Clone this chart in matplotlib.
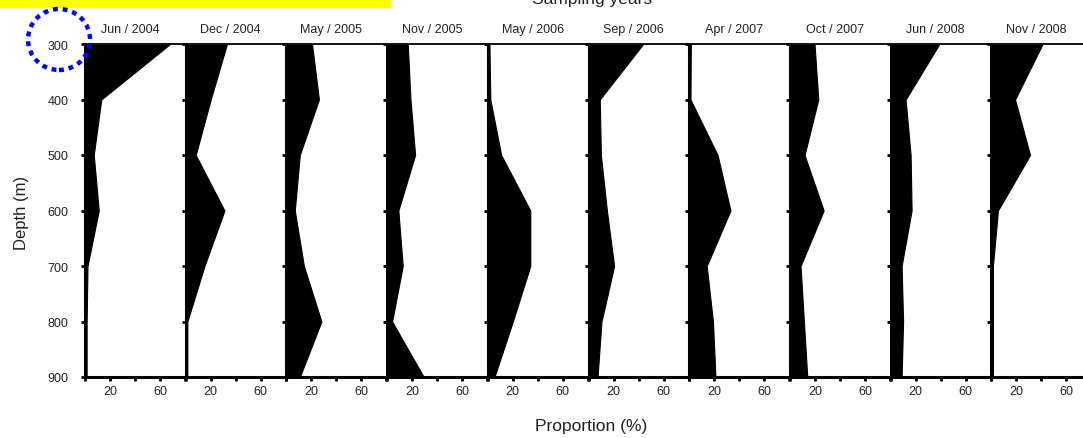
import matplotlib
matplotlib.use("Agg")
import matplotlib.pyplot as plt
from matplotlib.patches import Ellipse, Rectangle

plt.rcParams['font.family'] = ['Liberation Sans', 'DejaVu Sans']

depths = [300, 400, 500, 600, 700, 800, 900]
sampling_labels = ["Jun / 2004", "Dec / 2004", "May / 2005", "Nov / 2005", "May / 2006",
                   "Sep / 2006", "Apr / 2007", "Oct / 2007", "Jun / 2008", "Nov / 2008"]

jun_2004 = [68, 13, 7, 11, 2, 1.3, 1.3]
dec_2004 = [33, 20, 8, 31, 15, 1.3, 1.3]
may_2005 = [20.5, 26, 10.7, 6.7, 14, 28, 10.7]
nov_2005 = [16.5, 18.7, 22.4, 9, 12.5, 4, 29.3]
may_2006 = [1.3, 2, 10.7, 34, 34, 20, 5.3]
sep_2006 = [43.7, 9, 9.9, 14.7, 20.5, 10.4, 7.2]
apr_2007 = [1.3, 1, 22.7, 33, 14, 19, 21]
oct_2007 = [19.7, 22.7, 11.7, 27, 8.5, 11.2, 13.9]
jun_2008 = [39, 12, 16, 16.8, 8.8, 10, 8.8]
nov_2008 = [41, 19, 31, 5.3, 1.3, 1.3, 1.3]

series = [jun_2004, dec_2004, may_2005, nov_2005, may_2006,
          sep_2006, apr_2007, oct_2007, jun_2008, nov_2008]

x_ticks = [0, 20, 40, 60, 80]
x_tick_labels = ["", "20", "", "60", ""]
y_ticks = [300, 400, 500, 600, 700, 800, 900]

W, H = 1083, 439
fig = plt.figure(figsize=(W / 100, H / 100), dpi=100)

left0 = 85
step = 100.7
pw = 100
top_px, bot_px = 45, 378

for i, (vals, lab) in enumerate(zip(series, sampling_labels)):
    lx = left0 + i * step
    ax = fig.add_axes([lx / W, 1 - bot_px / H, pw / W, (bot_px - top_px) / H])
    ax.fill_betweenx(depths, 0, vals, color='black', linewidth=0.8, edgecolor='black')
    ax.set_xlim(0, 80)
    ax.set_ylim(900, 300)
    ax.set_xticks(x_ticks)
    ax.set_xticklabels(x_tick_labels)
    ax.set_yticks(y_ticks)
    if i == 0:
        ax.set_yticklabels([str(v) for v in y_ticks])
    else:
        ax.set_yticklabels([])
    ax.tick_params(axis='both', direction='out', length=3, width=2, color='black',
                   labelsize=9, labelcolor='#222222')
    ax.tick_params(axis='y', pad=9)
    ax.tick_params(axis='x', pad=3)
    ax.spines['right'].set_visible(False)
    ax.spines['left'].set_linewidth(2.2)
    ax.spines['bottom'].set_linewidth(2.2)
    ax.spines['top'].set_linewidth(1.4)
    ax.spines['top'].set_color('#111111')
    ax.set_title(lab, fontsize=9, pad=9, color='#222222', x=0.45)

fig.text(22 / W, 1 - 213 / H, "Depth (m)", rotation=90, fontsize=12,
         ha='center', va='center', color='#222222')
fig.text(591 / W, 1 - 427 / H, "Proportion (%)", fontsize=12.5,
         ha='center', va='center', color='#222222')
fig.text(592 / W, 1 - 4 / H, "Sampling years", fontsize=12.5,
         ha='center', va='baseline', color='#222222')

fig.add_artist(Rectangle((0, 1 - 9.3 / H), 391 / W, 9.3 / H, transform=fig.transFigure,
                         facecolor='#ffff00', edgecolor='none', zorder=5))
fig.add_artist(Ellipse((59 / W, 1 - 40.5 / H), 62 / W, 61 / H, transform=fig.transFigure,
                       facecolor='none', edgecolor='#0000ff', linewidth=3.2,
                       linestyle=(0, (1.1, 1.1)), zorder=6))

fig.savefig("out.png", dpi=100)
